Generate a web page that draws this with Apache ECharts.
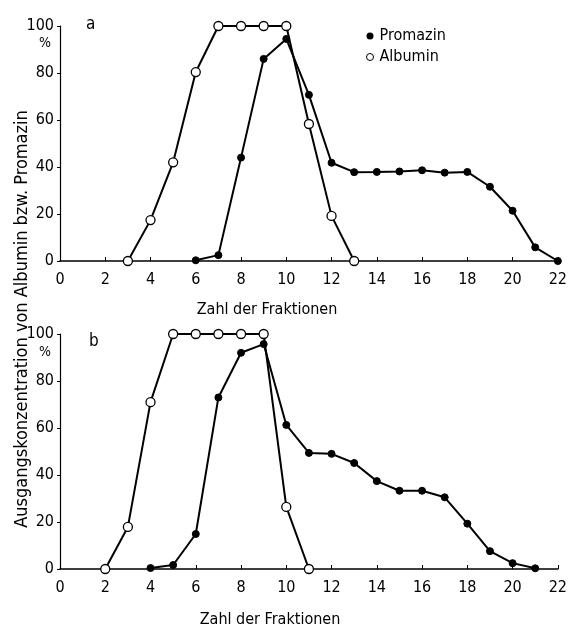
<!DOCTYPE html>
<html>
<head>
<meta charset="utf-8">
<script src="https://cdn.jsdelivr.net/npm/echarts@6/dist/echarts.min.js"></script>
<style>html,body{margin:0;padding:0;background:#fff}#c{width:570px;height:630px}</style>
</head>
<body>
<div id="c"></div>
<script>
const xTicks = [0, 2, 4, 6, 8, 10, 12, 14, 16, 18, 20, 22];
const yTicks = [0, 20, 40, 60, 80, 100];

const fracAlbuminA = [3, 4, 5, 6, 7, 8, 9, 10, 11, 12, 13];
const albuminA = [0, 17.4, 42, 80.4, 100, 100, 100, 100, 58.3, 19.2, 0];
const fracPromazinA = [6, 7, 8, 9, 10, 11, 12, 13, 14, 15, 16, 17, 18, 19, 20, 21, 22];
const promazinA = [0.3, 2.5, 44, 86, 94.5, 70.7, 41.8, 37.8, 37.9, 38.1, 38.6, 37.6, 37.9, 31.6, 21.4, 5.8, 0];

const fracAlbuminB = [2, 3, 4, 5, 6, 7, 8, 9, 10, 11];
const albuminB = [0, 17.9, 71, 100, 100, 100, 100, 100, 26.4, 0];
const fracPromazinB = [4, 5, 6, 7, 8, 9, 10, 11, 12, 13, 14, 15, 16, 17, 18, 19, 20, 21];
const promazinB = [0.4, 1.7, 14.9, 73, 92, 95.7, 61.3, 49.4, 49, 45.1, 37.4, 33.3, 33.3, 30.5, 19.3, 7.6, 2.5, 0.3];

const FONT = "'DejaVu Sans Condensed', 'Liberation Sans Narrow', sans-serif";
const zip = (xs, ys) => xs.map((x, i) => [x, ys[i]]);

function xAxisOf(gi) {
  return {
    gridIndex: gi, type: 'value', min: xTicks[0], max: xTicks[xTicks.length - 1], interval: 2,
    axisLine: { lineStyle: { color: '#000', width: 1.5 } },
    axisTick: { inside: true, length: 4, lineStyle: { color: '#000' } },
    axisLabel: { color: '#000', fontSize: 16, fontFamily: FONT, margin: 11 },
    splitLine: { show: false }
  };
}
function yAxisOf(gi) {
  return {
    gridIndex: gi, type: 'value', min: yTicks[0], max: yTicks[yTicks.length - 1], interval: 20,
    axisLine: { show: true, lineStyle: { color: '#000', width: 1.2 } },
    axisTick: { show: true, length: 3, lineStyle: { color: '#000' } },
    axisLabel: { color: '#000', fontSize: 16, fontFamily: FONT, margin: 6 },
    splitLine: { show: false }
  };
}
function promazin(xi, data) {
  return {
    name: 'Promazin', type: 'line', xAxisIndex: xi, yAxisIndex: xi, data: data, clip: false,
    symbol: 'circle', symbolSize: 7,
    itemStyle: { color: '#000', borderColor: '#000' },
    lineStyle: { color: '#000', width: 2 }, z: 3
  };
}
function albumin(xi, data) {
  return {
    name: 'Albumin', type: 'line', xAxisIndex: xi, yAxisIndex: xi, data: data, clip: false,
    symbol: 'circle', symbolSize: 9, showAllSymbol: true,
    itemStyle: { color: '#fff', borderColor: '#000', borderWidth: 1.3 },
    lineStyle: { color: '#000', width: 2 }, z: 4
  };
}

const chart = echarts.init(document.getElementById('c'), null, { renderer: 'canvas' });
chart.setOption({
  animation: false,
  backgroundColor: '#fff',
  textStyle: { fontFamily: FONT },
  grid: [
    { left: 60, right: 11, top: 26, height: 235 },
    { left: 60, right: 12, top: 334, height: 235 }
  ],
  xAxis: [xAxisOf(0), xAxisOf(1)],
  yAxis: [yAxisOf(0), yAxisOf(1)],
  legend: {
    data: [
      { name: 'Promazin', icon: 'circle', itemStyle: { color: '#000' } },
      { name: 'Albumin', icon: 'circle', itemStyle: { color: '#fff', borderColor: '#000', borderWidth: 1 } }
    ],
    orient: 'vertical', left: 361, top: 23, itemWidth: 7, itemHeight: 7, itemGap: 5,
    textStyle: { color: '#000', fontSize: 16, fontFamily: FONT, padding: [0, 0, 0, 1] }
  },
  graphic: [
    { type: 'text', left: 86, top: 16, style: { text: 'a', fontSize: 17, fontFamily: FONT, fill: '#000' } },
    { type: 'text', left: 89, top: 333, style: { text: 'b', fontSize: 17, fontFamily: FONT, fill: '#000' } },
    { type: 'text', left: 39, top: 36, style: { text: '%', fontSize: 14, fontFamily: FONT, fill: '#000' } },
    { type: 'text', left: 39, top: 345, style: { text: '%', fontSize: 14, fontFamily: FONT, fill: '#000' } },
    { type: 'text', x: 267, y: 310, style: { text: 'Zahl der Fraktionen', fontSize: 16, fontFamily: FONT, fill: '#000', align: 'center', verticalAlign: 'middle' } },
    { type: 'text', x: 270, y: 620, style: { text: 'Zahl der Fraktionen', fontSize: 16, fontFamily: FONT, fill: '#000', align: 'center', verticalAlign: 'middle' } },
    { type: 'text', x: 22, y: 319, rotation: Math.PI / 2, style: { text: 'Ausgangskonzentration von Albumin bzw. Promazin', fontSize: 18, fontFamily: FONT, fill: '#000', align: 'center', verticalAlign: 'middle' } }
  ],
  series: [
    albumin(0, zip(fracAlbuminA, albuminA)),
    promazin(0, zip(fracPromazinA, promazinA)),
    albumin(1, zip(fracAlbuminB, albuminB)),
    promazin(1, zip(fracPromazinB, promazinB))
  ]
});
</script>
</body>
</html>
